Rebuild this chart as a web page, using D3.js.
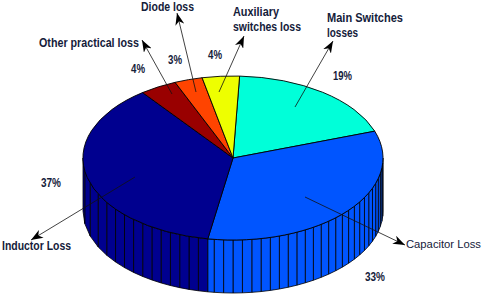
<!DOCTYPE html>
<html>
<head>
<meta charset="utf-8">
<script src="https://cdn.jsdelivr.net/npm/d3@7"></script>
<style>
    html, body { margin: 0; padding: 0; background: #fff; }
    svg { display: block; }
    text { font-family: "Liberation Sans", Arial, sans-serif; font-size: 12.5px; font-weight: bold; fill: #14203a; }
    text.plain { font-size: 11.5px; font-weight: normal; }
</style>
</head>
<body>
<div id="chart"></div>
<script>
// Values, clockwise from the top
var categories = ["Main Switches losses", "Capacitor Loss", "Inductor Loss", "Other practical loss", "Diode loss", "Auxiliary switches loss"];
var lossPercent = [19, 33, 37, 4, 3, 4];
var sliceColors = ["#00ffd9", "#0055ff", "#00008f", "#990000", "#ff4400", "#eeff00"];


var full = {w: 484, h: 295};
var pieCenter = {x: 233, y: 158};
var radius = {x: 150, y: 82};
var depth = 53;
var startAngle = 2.5 * Math.PI / 180;
var facetStep = 3.6 * Math.PI / 180;

// label/arrow layout for each slice, same order as categories
// text lines are [string, x, baseline, width]: the original font is narrower than Liberation
var annotations = [
    {lines: [["Main Switches", 327, 22, 76], ["losses", 327, 37, 31]], pct: [333, 80, 19], from: [295, 107], to: [333, 41]},
    {lines: [["Capacitor Loss", 406, 248, 75]], pct: [365, 281, 20], from: [305, 197], to: [405, 245], plain: true},
    {lines: [["Inductor Loss", 2, 250, 69]], pct: [41, 187, 20], from: [135, 177], to: [31, 240]},
    {lines: [["Other practical loss", 39, 47, 100]], pct: [131, 73, 14], from: [172, 94], to: [142, 40]},
    {lines: [["Diode loss", 141, 11, 53]], pct: [168, 64, 14], from: [196, 92], to: [177, 13]},
    {lines: [["Auxiliary", 233, 16, 46], ["switches loss", 233, 31, 68]], pct: [208, 59, 14], from: [219, 92], to: [244, 36]}
];


var svg = d3.select("#chart").append("svg")
    .attr("width", full.w)
    .attr("height", full.h);

var pie = d3.pie().sort(null)
    .startAngle(startAngle)
    .endAngle(startAngle + 2 * Math.PI);

var slices = pie(lossPercent);

// d3 angles: 0 is up, growing clockwise
var xScale = d3.scaleLinear().domain([-1, 1]).range([pieCenter.x - radius.x, pieCenter.x + radius.x]);
var yScale = d3.scaleLinear().domain([-1, 1]).range([pieCenter.y - radius.y, pieCenter.y + radius.y]);

function rimX(a) { return xScale(Math.sin(a)); }
function rimY(a) { return yScale(-Math.cos(a)); }


// facet edges along the front of a slice; the left side of the original keeps them wider apart
function facetAngles(a0, a1) {
    var angles = [];
    var a = a0;
    while (a < a1) {
        angles.push(a);
        a += a > Math.PI ? facetStep / Math.max(Math.abs(Math.cos(a)), 0.4) : facetStep;
    }
    angles.push(a1);
    return angles;
}


function drawSideWalls() {
    var wallGroup = svg.append("g");

    slices.forEach(function(d) {
        var a0 = Math.max(d.startAngle, Math.PI / 2);
        var a1 = Math.min(d.endAngle, 3 * Math.PI / 2);
        if (a1 <= a0) return;

        var a = facetAngles(a0, a1);
        for (var i = 0; i < a.length - 1; i++) {
            wallGroup.append("path")
                .attr("d", "M" + rimX(a[i]) + "," + rimY(a[i]) +
                           "L" + rimX(a[i + 1]) + "," + rimY(a[i + 1]) +
                           "L" + rimX(a[i + 1]) + "," + (rimY(a[i + 1]) + depth) +
                           "L" + rimX(a[i]) + "," + (rimY(a[i]) + depth) + "Z")
                .attr("fill", sliceColors[d.index])
                .attr("stroke", "#000")
                .attr("stroke-width", 0.8);
        }
    });
}


function drawTop() {
    var arc = d3.arc().innerRadius(0).outerRadius(1);

    svg.append("g")
        .attr("transform", "translate(" + pieCenter.x + "," + pieCenter.y + ") scale(" + radius.x + "," + radius.y + ")")
        .selectAll("path")
        .data(slices)
        .enter()
        .append("path")
          .attr("d", arc)
          .attr("fill", function(d) { return sliceColors[d.index]; })
          .attr("stroke", "#000")
          .attr("stroke-width", 0.9)
          .attr("vector-effect", "non-scaling-stroke");
}


function addText(group, str, x, y, width, plain) {
    group.append("text")
        .attr("x", x).attr("y", y)
        .attr("textLength", width)
        .attr("lengthAdjust", "spacingAndGlyphs")
        .classed("plain", !!plain)
        .text(str);
}


function drawAnnotations() {
    var defs = svg.append("defs");
    defs.append("marker")
        .attr("id", "arrowHead")
        .attr("viewBox", "0 0 12 9")
        .attr("refX", 12)
        .attr("refY", 4.5)
        .attr("markerUnits", "userSpaceOnUse")
        .attr("markerWidth", 12)
        .attr("markerHeight", 9)
        .attr("orient", "auto")
        .append("path")
          .attr("d", "M12,4.5L0,0L3.5,4.5L0,9Z")
          .attr("fill", "#000");

    var group = svg.append("g");

    annotations.forEach(function(d, i) {
        group.append("line")
            .attr("x1", d.from[0]).attr("y1", d.from[1])
            .attr("x2", d.to[0]).attr("y2", d.to[1])
            .attr("stroke", "#111")
            .attr("stroke-width", 0.8)
            .attr("marker-end", "url(#arrowHead)");

        d.lines.forEach(function(line) {
            addText(group, line[0], line[1], line[2], line[3], d.plain);
        });

        addText(group, lossPercent[i] + "%", d.pct[0], d.pct[1], d.pct[2], false);
    });
}


drawSideWalls();
drawTop();
drawAnnotations();
</script>
</body>
</html>
